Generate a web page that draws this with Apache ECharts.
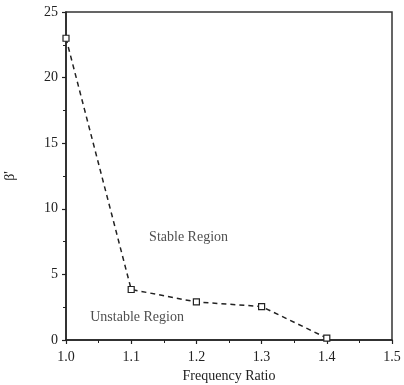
<!DOCTYPE html>
<html><head><meta charset="utf-8">
<script src="https://cdn.jsdelivr.net/npm/echarts@6/dist/echarts.min.js"></script>
<style>html,body{margin:0;padding:0;background:#fff}#c{width:404px;height:385px}</style>
</head><body><div id="c"></div>
<script>
const freqRatio = [1.0, 1.1, 1.2, 1.3, 1.4];
const betaPrime = [23.0, 3.85, 2.9, 2.55, 0.15];
const xTicks = [1.0, 1.1, 1.2, 1.3, 1.4, 1.5];
const yTicks = [0, 5, 10, 15, 20, 25];
const regionLabels = ['Stable Region', 'Unstable Region'];
const regionX = [1.188, 1.109];
const regionY = [7.85, 1.7];

const font = 'Liberation Serif';
const chart = echarts.init(document.getElementById('c'), null, {renderer: 'canvas'});
const axisCommon = {
  axisLine: {show: true, onZero: false, lineStyle: {color: '#222', width: 1.5}},
  axisTick: {show: true, inside: false, length: 4, lineStyle: {color: '#222', width: 1.2}},
  minorTick: {show: true, splitNumber: 2, length: 3, lineStyle: {color: '#222', width: 1}},
  splitLine: {show: false},
  axisLabel: {color: '#222', fontFamily: font, fontSize: 14}
};
chart.setOption({
  animation: false,
  grid: {left: 66, right: 12, top: 12, bottom: 45, outerBoundsMode: 'none', containLabel: false,
         show: true, borderColor: '#333', borderWidth: 1.5, backgroundColor: 'transparent'},
  xAxis: Object.assign({}, axisCommon, {
    type: 'value', min: xTicks[0], max: xTicks[xTicks.length - 1], interval: 0.1,
    name: 'Frequency Ratio', nameLocation: 'middle', nameGap: 22,
    nameTextStyle: {color: '#222', fontFamily: font, fontSize: 14},
    axisLabel: Object.assign({}, axisCommon.axisLabel, {margin: 10, formatter: v => v.toFixed(1)})
  }),
  yAxis: Object.assign({}, axisCommon, {
    type: 'value', min: yTicks[0], max: yTicks[yTicks.length - 1], interval: 5,
    name: "β'", nameLocation: 'middle', nameGap: 49, nameRotate: 90,
    nameTextStyle: {color: '#222', fontFamily: font, fontSize: 14},
    axisLabel: Object.assign({}, axisCommon.axisLabel, {margin: 8})
  }),
  series: [{
    type: 'line',
    data: freqRatio.map((x, i) => [x, betaPrime[i]]),
    symbol: 'rect', symbolSize: 6, showAllSymbol: true,
    lineStyle: {color: '#222', width: 1.5, type: [5, 4]},
    itemStyle: {color: '#fff', borderColor: '#222', borderWidth: 1.2},
    z: 3
  }, {
    type: 'scatter',
    data: regionLabels.map((t, i) => ({value: [regionX[i], regionY[i]], name: t})),
    symbolSize: 0,
    silent: true,
    label: {show: true, position: 'inside', formatter: p => p.name, color: '#222', fontFamily: font, fontSize: 14}
  }]
});
</script></body></html>
